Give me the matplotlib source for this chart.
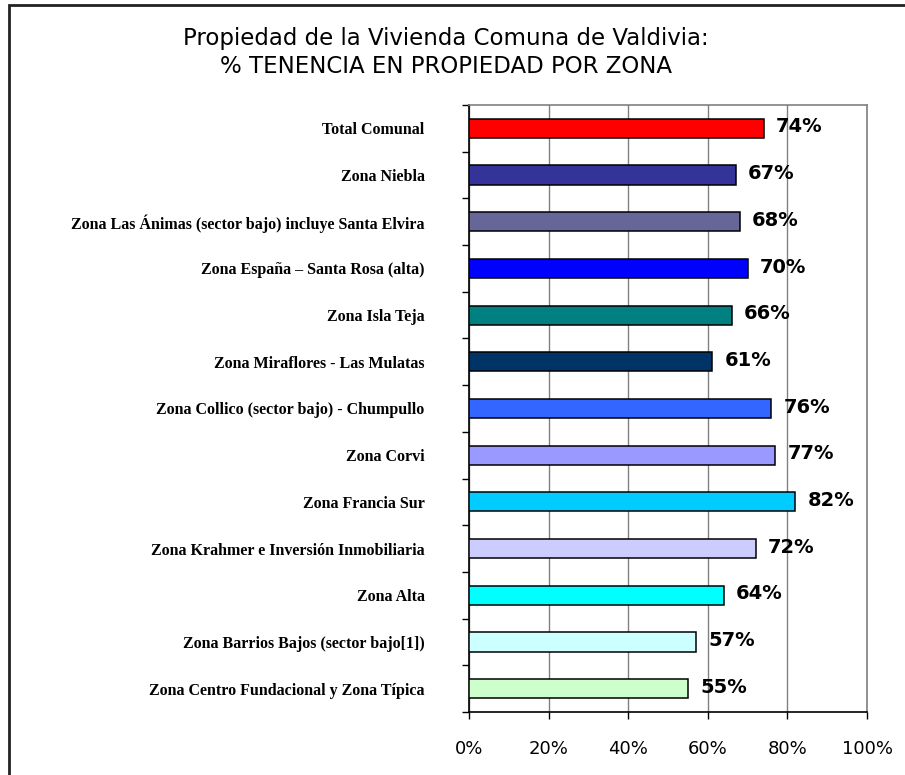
import matplotlib
matplotlib.use("Agg")
import matplotlib.pyplot as plt
from matplotlib.patches import Rectangle
from matplotlib.ticker import FixedLocator, PercentFormatter

# ---------------------- DATA ----------------------
zonas = [
    "Total Comunal",
    "Zona Niebla",
    "Zona Las Ánimas (sector bajo) incluye Santa Elvira",
    "Zona España – Santa Rosa (alta)",
    "Zona Isla Teja",
    "Zona Miraflores - Las Mulatas",
    "Zona Collico (sector bajo) - Chumpullo",
    "Zona Corvi",
    "Zona Francia Sur",
    "Zona Krahmer e Inversión Inmobiliaria",
    "Zona Alta",
    "Zona Barrios Bajos (sector bajo[1])",
    "Zona Centro Fundacional y Zona Típica",
]
tenencia = [74, 67, 68, 70, 66, 61, 76, 77, 82, 72, 64, 57, 55]
colores = [
    "#FF0000", "#333399", "#666699", "#0000FF", "#008080", "#003366",
    "#3366FF", "#9999FF", "#00CCFF", "#CCCCFF", "#00FFFF", "#CCFFFF", "#CCFFCC",
]
x_ticks = [0, 20, 40, 60, 80, 100]

TITLE = "Propiedad de la Vivienda Comuna de Valdivia:\n% TENENCIA EN PROPIEDAD POR ZONA"

# ---------------------- FIGURE ----------------------
W, H = 905, 775
fig = plt.figure(figsize=(W / 100, H / 100), dpi=100)
ax = fig.add_axes([469 / W, 1 - 712 / H, (867 - 469) / W, (712 - 105) / H])

n = len(zonas)
ypos = list(range(n))
ax.barh(ypos, tenencia, height=0.41, color=colores, edgecolor="black",
        linewidth=1.1, zorder=3)
ax.set_ylim(n - 0.5, -0.5)
ax.set_xlim(0, 100)

for y, v in zip(ypos, tenencia):
    ax.annotate(f"{v}%", (v, y), xytext=(9, 1), textcoords="offset points",
                ha="left", va="center", fontsize=14, fontweight="bold",
                family="DejaVu Sans", zorder=4)

# y axis: labels without ticks, small ticks between categories
ax.set_yticks(ypos)
ax.set_yticklabels(zonas, family="Liberation Serif", fontweight="bold", fontsize=11.5)
ax.tick_params(axis="y", which="major", length=0, pad=32)
ax.yaxis.set_minor_locator(FixedLocator([i - 0.5 for i in range(n + 1)]))
ax.tick_params(axis="y", which="minor", length=5, width=1, direction="out")

ax.xaxis.set_major_locator(FixedLocator(x_ticks))
ax.xaxis.set_major_formatter(PercentFormatter(decimals=0))
ax.tick_params(axis="x", length=5, width=1, direction="out", pad=15, labelsize=13)
for lbl in ax.get_xticklabels():
    lbl.set_family("DejaVu Sans")

ax.grid(axis="x", color="#808080", linewidth=1, zorder=0)
ax.set_axisbelow(True)
ax.spines["left"].set_color("black")
ax.spines["bottom"].set_color("black")
ax.spines["left"].set_linewidth(1.2)
ax.spines["bottom"].set_linewidth(1.2)
for s in ("top", "right"):
    ax.spines[s].set_color("#808080")
    ax.spines[s].set_linewidth(1.2)

fig.text(446 / W, 1 - 27 / H, TITLE, ha="center", va="top", fontsize=16.5,
         family="DejaVu Sans", linespacing=1.3)

# outer chart frame
fig.add_artist(Rectangle((9 / W, -0.05), 1.2, 1 - 5 / H + 0.05,
                         transform=fig.transFigure, fill=False,
                         edgecolor="#222222", linewidth=2))

fig.savefig("out.png", dpi=100)
